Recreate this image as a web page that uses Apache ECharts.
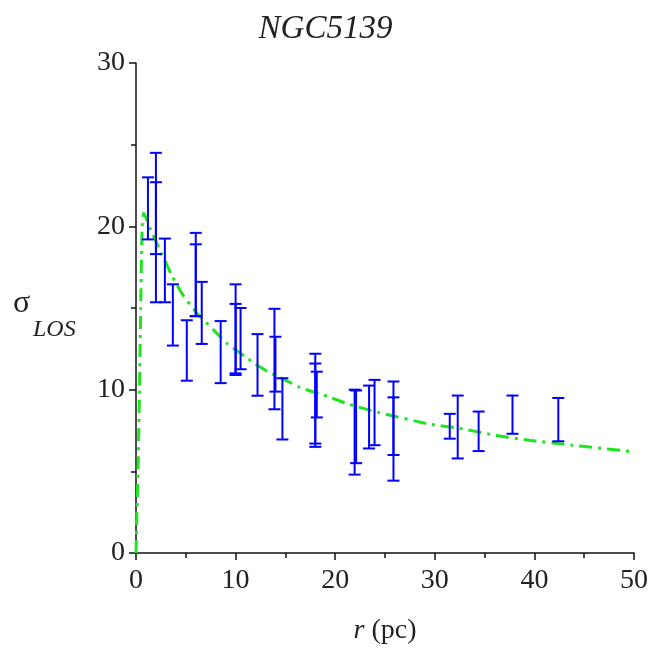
<!DOCTYPE html>
<html>
<head>
<meta charset="utf-8">
<script src="https://cdn.jsdelivr.net/npm/echarts@6/dist/echarts.min.js"></script>
<style>html,body{margin:0;padding:0;background:#fff}#c{width:651px;height:650px}</style>
</head>
<body>
<div id="c"></div>
<script>
// Error bar data: radius (pc), lower and upper sigma
var errX    = [1.2, 2.0, 2.0, 2.9, 3.7, 5.1, 6.0, 6.0, 6.6, 8.5, 10.0, 10.0, 10.5, 12.2, 13.9, 14.0, 14.7, 18.0, 18.0, 18.15, 21.95, 22.1, 23.4, 23.95, 25.85, 25.85, 31.5, 32.3, 34.4, 37.8, 42.4];
var errLow  = [19.2, 18.3, 15.35, 15.35, 12.7, 10.55, 14.5, 14.5, 12.8, 10.4, 10.9, 11.0, 11.25, 9.63, 8.8, 9.88, 6.95, 6.7, 6.5, 8.3, 4.8, 5.5, 6.4, 6.6, 6.0, 4.43, 7.0, 5.79, 6.24, 7.3, 6.84];
var errHigh = [23.0, 24.5, 22.7, 19.25, 16.45, 14.25, 19.6, 18.9, 16.6, 14.2, 16.45, 15.25, 15.0, 13.4, 14.95, 13.24, 10.7, 12.2, 11.6, 11.1, 10.0, 9.95, 10.25, 10.6, 10.5, 9.53, 8.52, 9.64, 8.66, 9.64, 9.49];
// Model curve
var curveX = [0, 0.05, 0.2, 0.35, 0.47, 0.62, 0.78, 1.4, 2.5, 3.6, 4.7, 6.1, 6.9, 8.2, 9.2, 10.9, 11.9, 13.4, 14.8, 16.4, 19.4, 21.4, 24.4, 29.4, 32.8, 36.1, 39.5, 43.8, 50];
var curveY = [0, 1.5, 5, 10, 15, 20, 20.8, 19.9, 18.4, 17.0, 15.8, 14.7, 14.2, 13.4, 12.8, 12.05, 11.6, 11.05, 10.65, 10.15, 9.55, 9.1, 8.6, 7.9, 7.6, 7.2, 6.9, 6.6, 6.2];
var xTicks = [0, 10, 20, 30, 40, 50];
var yTicks = [0, 10, 20, 30];

var errData = errX.map(function (x, i) { return [x, errLow[i], errHigh[i]]; });
var curveData = curveX.map(function (x, i) { return [x, curveY[i]]; });

var FONT = '"Liberation Serif", "DejaVu Serif", serif';
var chart = echarts.init(document.getElementById('c'), null, {renderer: 'canvas'});

function axisCommon() {
  return {
    type: 'value',
    axisLine: {show: true, onZero: false, lineStyle: {color: '#111', width: 1.5}},
    axisTick: {show: true, inside: false, length: 7, lineStyle: {color: '#111', width: 1.5}},
    minorTick: {show: true, splitNumber: 2, length: 5, lineStyle: {color: '#111', width: 1.5}},
    splitLine: {show: false},
    minorSplitLine: {show: false},
    axisLabel: {fontFamily: FONT, fontSize: 28, color: '#222'}
  };
}
var xa = axisCommon();
xa.min = xTicks[0]; xa.max = xTicks[xTicks.length - 1]; xa.interval = 10;
xa.axisLabel.margin = 14;
xa.name = '{i|r} (pc)';
xa.nameLocation = 'middle';
xa.nameGap = 64;
xa.nameTextStyle = {fontFamily: FONT, fontSize: 28, color: '#222', rich: {i: {fontFamily: FONT, fontSize: 28, fontStyle: 'italic', color: '#222'}}};
var ya = axisCommon();
ya.min = yTicks[0]; ya.max = yTicks[yTicks.length - 1]; ya.interval = 10;
ya.axisLabel.margin = 11;

chart.setOption({
  animation: false,
  backgroundColor: '#fff',
  title: {
    text: 'NGC5139', left: 'center', top: 8,
    textStyle: {fontFamily: FONT, fontStyle: 'italic', fontWeight: 'normal', fontSize: 33, color: '#222'}
  },
  grid: {left: 136, right: 16, top: 63, bottom: 93, containLabel: false},
  xAxis: xa,
  yAxis: ya,
  graphic: [
    {type: 'text', left: 13, top: 288, style: {text: 'σ', fontFamily: FONT, fontSize: 32, fill: '#222'}},
    {type: 'text', left: 33, top: 318, style: {text: 'LOS', fontFamily: FONT, fontSize: 24, fontStyle: 'italic', fill: '#222'}}
  ],
  series: [
    {
      type: 'line',
      data: curveData,
      showSymbol: false,
      smooth: 0.2,
      lineStyle: {color: '#1ee61e', width: 3, type: [13, 6, 3, 6]},
      z: 2
    },
    {
      type: 'custom',
      data: errData,
      encode: {x: 0, y: [1, 2]},
      z: 3,
      renderItem: function (params, api) {
        var x = api.value(0);
        var pLo = api.coord([x, api.value(1)]);
        var pHi = api.coord([x, api.value(2)]);
        var w = 6;
        var st = {stroke: '#0000ff', lineWidth: 2};
        return {
          type: 'group',
          children: [
            {type: 'line', shape: {x1: pHi[0], y1: pHi[1], x2: pLo[0], y2: pLo[1]}, style: st},
            {type: 'line', shape: {x1: pHi[0] - w, y1: pHi[1], x2: pHi[0] + w, y2: pHi[1]}, style: st},
            {type: 'line', shape: {x1: pLo[0] - w, y1: pLo[1], x2: pLo[0] + w, y2: pLo[1]}, style: st}
          ]
        };
      }
    }
  ]
});
</script>
</body>
</html>
